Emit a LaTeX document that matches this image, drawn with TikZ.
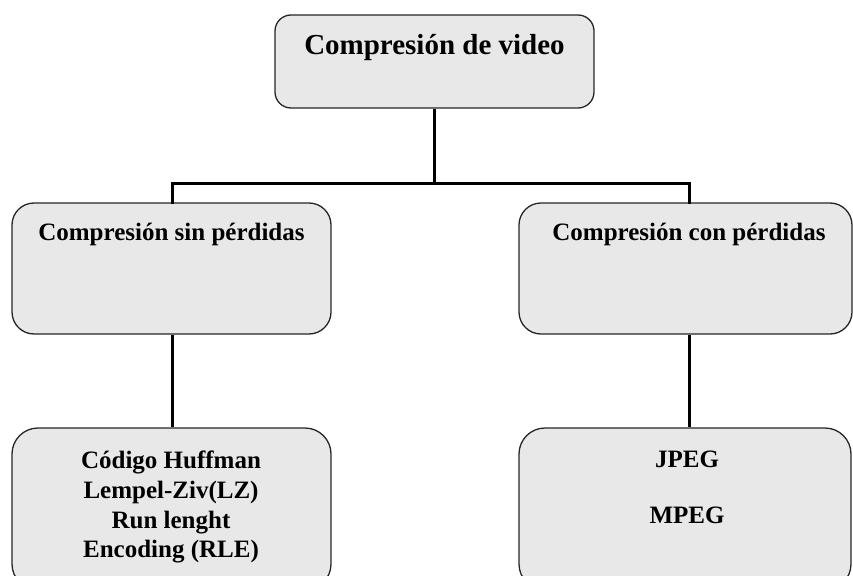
\documentclass[tikz,border=0pt]{standalone}
\usepackage{fontspec}
\setmainfont{Liberation Serif}
\begin{document}
\begin{tikzpicture}[x=1pt,y=-1pt,
  box/.style={draw=black!85, line width=1.3pt, fill=black!9, rounded corners=#1, inner sep=0pt},
  box/.default=16pt,
  conn/.style={line width=3pt, black},
  title/.style={font=\bfseries\fontsize{29}{34}\selectfont, inner sep=0pt},
  label/.style={font=\bfseries\fontsize{25}{29.7}\selectfont, inner sep=0pt, align=center}]
\useasboundingbox (0,0) rectangle (853,575);
\clip (0,0) rectangle (853,575);
% boxes
\node[box=16pt, minimum width=319pt, minimum height=93pt] (top) at (434.5,61.5) {};
\node[box=22pt, minimum width=319pt, minimum height=131pt] (ml) at (171.5,268.5) {};
\node[box=22pt, minimum width=333pt, minimum height=131pt] (mr) at (685.5,268.5) {};
\node[box=26pt, minimum width=319pt, minimum height=162pt] (bl) at (171.5,509) {};
\node[box=26pt, minimum width=332pt, minimum height=162pt] (br) at (685,509) {};
% texts
\node[title, anchor=base] (ttop) at (434.5,55) {Compresión de video};
\node[label, anchor=base] (tml) at (171.5,240) {Compresión sin pérdidas};
\node[label, anchor=base] (tmr) at (689,240) {Compresión con pérdidas};
\node[label, anchor=north] (tbl) at (171,451) {Código Huffman\\Lempel-Ziv(LZ)\\Run lenght\\Encoding (RLE)};
\node[label, anchor=base] (tj) at (687,467) {JPEG};
\node[label, anchor=base] (tm) at (687,523) {MPEG};
% connectors
\coordinate (hl) at (172,183);
\coordinate (hr) at (689,183);
\coordinate (hc) at (434.5,183);
\draw[conn] (top.south) -- (hc);
\draw[conn, line cap=rect] (ml.north -| hl) -- (hl) -- (hr) -- (mr.north -| hr);
\draw[conn] (ml.south -| hl) -- (bl.north -| hl);
\draw[conn] (mr.south -| hr) -- (br.north -| hr);
\end{tikzpicture}
\end{document}
